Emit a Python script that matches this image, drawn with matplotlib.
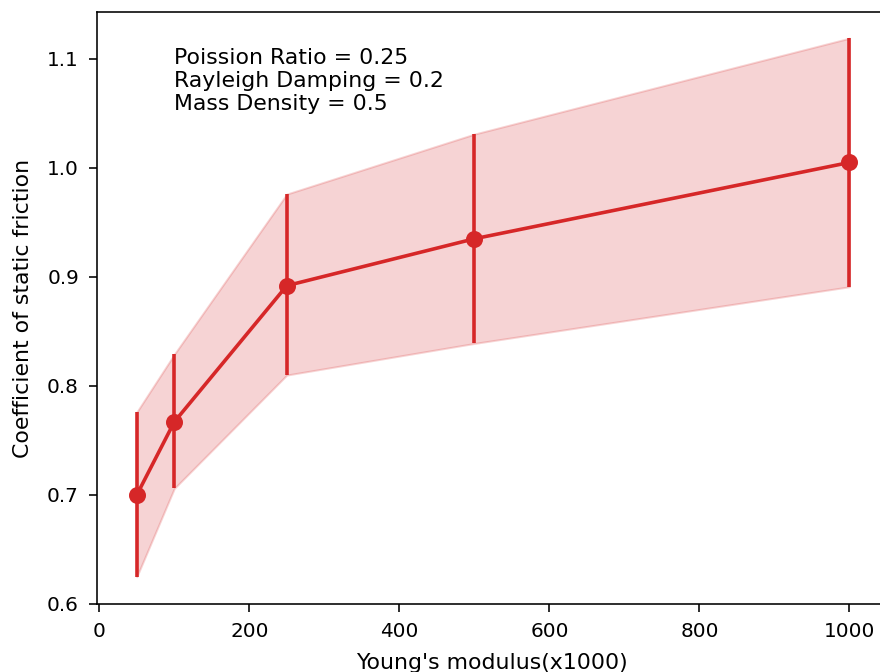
import numpy as np
import matplotlib
matplotlib.use("Agg")
import matplotlib.pyplot as plt

# young's modulus (x1000)
youngs = [50, 100, 250, 500, 1000]
mu_mean = [0.700, 0.767, 0.892, 0.935, 1.005]
mu_low = [0.625, 0.706, 0.810, 0.839, 0.891]
mu_high = [0.776, 0.829, 0.976, 1.031, 1.119]

info = "Poission Ratio = 0.25\nRayleigh Damping = 0.2\nMass Density = 0.5"

color = "tab:red"

fig = plt.figure(figsize=(880 / 144, 672 / 144), dpi=144)
ax = fig.add_axes([97 / 880, 1 - 604 / 672, 790 / 880, (604 - 12) / 672])

mean = np.array(mu_mean)
err = [mean - np.array(mu_low), np.array(mu_high) - mean]

ax.fill_between(youngs, mu_low, mu_high, color=color, alpha=0.2)
ax.errorbar(youngs, mu_mean, yerr=err, fmt="o-", color=color, capsize=0,
            lw=1.8, elinewidth=1.8, ms=7.5)

ax.text(100, 1.053, info, fontsize=11)

ax.set_xlim(-3, 1050)
ax.set_ylim(0.6, 1.143)
ax.tick_params(length=4, pad=5)
ax.set_xlabel("Young's modulus(x1000)", fontsize=11, labelpad=6)
ax.set_ylabel("Coefficient of static friction", fontsize=11, labelpad=7)

fig.savefig("out.png", dpi=144)
